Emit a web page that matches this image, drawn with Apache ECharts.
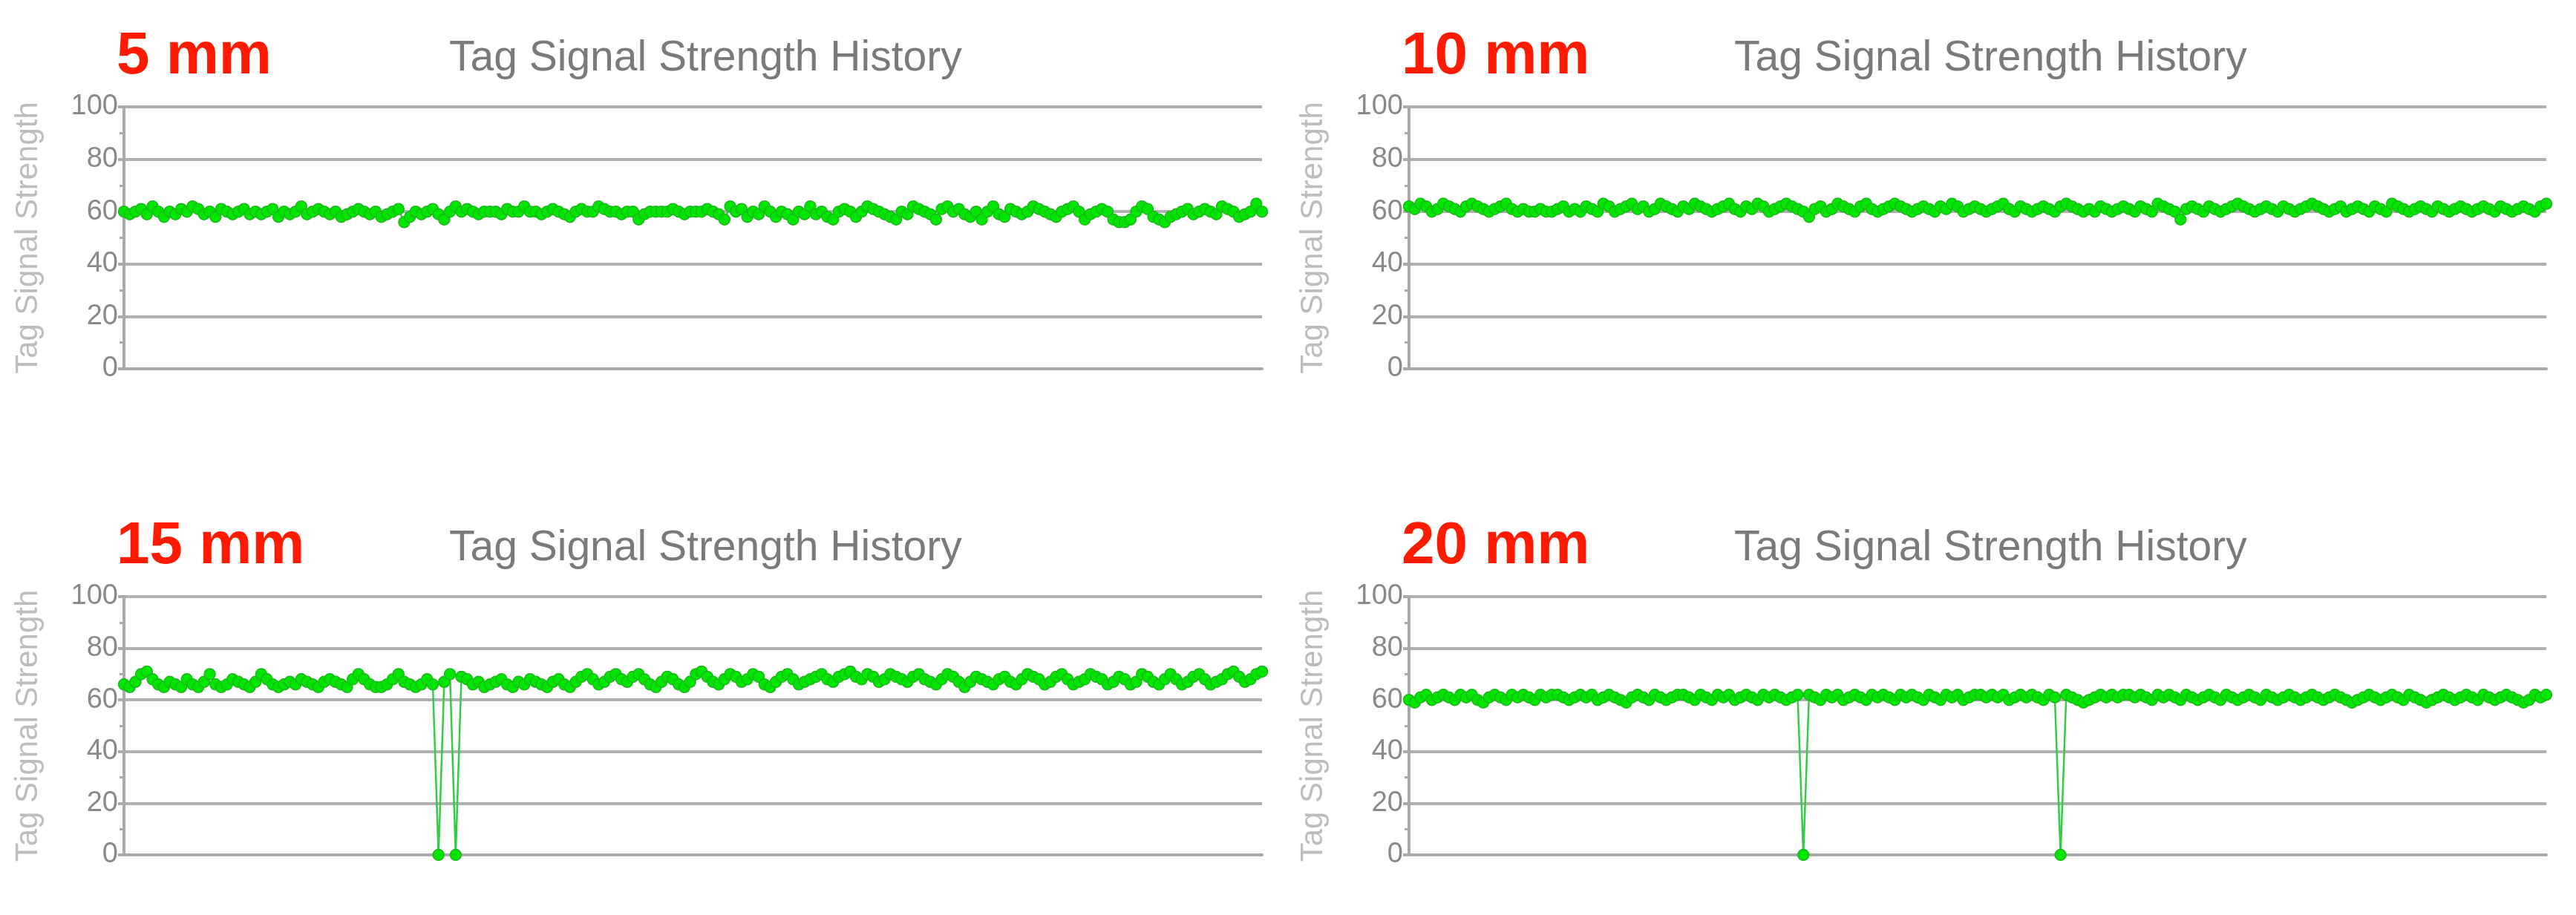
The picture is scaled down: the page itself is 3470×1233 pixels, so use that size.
<!DOCTYPE html>
<html>
<head>
<meta charset="utf-8">
<script src="https://cdn.jsdelivr.net/npm/echarts@6/dist/echarts.min.js"></script>
<style>html,body{margin:0;padding:0;background:#fff}#main{width:3470px;height:1233px}</style>
</head>
<body>
<div id="main"></div>
<script>
// panel labels
const panelNames = ['5 mm', '10 mm', '15 mm', '20 mm'];
const yTicks = [0, 20, 40, 60, 80, 100];

// read values (200 samples each)
const s5 = [
60,59,60,61,59,62,60,58,60,59,61,60,62,61,59,60,58,61,60,59,
60,61,59,60,59,60,61,58,60,59,60,62,59,60,61,60,59,60,58,59,
60,61,60,59,60,58,59,60,61,56,58,60,59,60,61,59,57,60,62,60,
61,60,59,60,60,60,59,61,60,60,62,60,60,59,60,61,60,59,58,60,
61,60,60,62,61,60,60,59,60,60,57,59,60,60,60,60,61,60,59,60,
60,60,61,60,59,57,62,60,61,58,60,59,62,60,58,60,59,57,60,59,
62,59,60,58,57,60,61,60,58,60,62,61,60,59,58,57,60,59,62,61,
60,59,57,61,62,60,61,59,58,60,57,60,62,59,58,61,60,59,60,62,
61,60,59,58,60,61,62,60,57,59,60,61,60,57,56,56,57,60,62,61,
58,57,56,58,59,60,61,59,60,61,60,59,62,61,60,58,59,60,63,60];
const s10 = [
62,61,63,62,60,61,63,62,61,60,62,63,62,61,60,61,62,63,61,60,
61,60,60,61,60,60,61,62,60,61,60,62,61,60,63,62,60,61,62,63,
61,62,60,61,63,62,61,60,62,61,63,62,61,60,61,62,63,61,60,62,
61,63,62,60,61,62,63,62,61,60,58,61,62,60,61,63,62,61,60,62,
63,61,60,61,62,63,62,61,60,61,62,61,60,62,61,63,62,60,61,62,
61,60,61,62,63,61,60,62,61,60,61,62,61,60,62,63,62,61,60,61,
60,62,61,60,61,62,61,60,62,61,60,63,62,61,60,57,61,62,61,60,
62,61,60,61,62,63,62,61,60,61,62,61,60,62,61,60,61,62,63,62,
61,60,61,62,60,61,62,61,60,62,61,60,63,62,61,60,61,62,61,60,
62,61,60,61,62,61,60,61,62,61,60,62,61,60,61,62,61,60,62,63];
const s15 = [
66,65,67,70,71,68,66,65,67,66,65,68,66,65,67,70,66,65,66,68,
67,66,65,67,70,68,66,65,66,67,66,68,67,66,65,67,68,67,66,65,
68,70,68,66,65,65,66,68,70,67,66,65,66,68,66,0,67,70,0,69,
68,66,67,65,66,67,68,66,65,67,66,68,67,66,65,67,68,66,65,67,
69,70,68,66,67,69,70,68,67,69,70,68,66,65,67,69,68,66,65,67,
70,71,69,67,66,68,70,69,67,68,70,69,66,65,67,69,70,68,66,67,
68,69,70,68,67,69,70,71,69,68,70,69,67,68,70,69,68,67,69,70,
68,67,66,68,70,69,67,65,67,69,68,67,66,68,69,67,66,68,70,69,
68,66,67,69,70,68,66,67,68,70,69,68,66,67,69,68,66,67,70,69,
67,66,68,70,68,66,67,69,70,68,66,67,68,70,71,69,67,68,70,71];
const s20 = [
60,59,61,62,60,61,62,61,60,62,61,62,60,59,61,62,61,60,62,61,
62,61,60,62,61,62,62,61,60,61,62,61,62,60,61,62,61,60,59,61,
62,61,60,62,61,60,61,62,62,61,60,62,61,60,62,61,62,60,61,62,
61,60,62,61,62,61,60,61,62,0,62,61,60,62,61,62,60,61,62,61,
60,62,61,62,61,60,62,61,62,61,60,62,61,60,62,61,62,60,61,62,
62,61,62,61,62,60,61,62,61,62,61,60,62,61,0,62,61,60,59,60,
61,62,61,62,61,62,62,61,62,61,60,62,61,62,61,60,62,61,60,61,
62,61,60,62,61,60,61,62,61,60,62,61,60,61,62,61,60,61,62,61,
60,61,62,61,60,59,60,61,62,61,60,61,62,61,60,62,61,60,59,60,
61,62,61,60,61,62,61,60,62,61,60,61,62,61,60,59,60,62,61,62];
const allSeries = [s5, s10, s15, s20];

const chart = echarts.init(document.getElementById('main'));

const grids = [
  { left: 167, width: 1533, top: 144, height: 353 },
  { left: 1898, width: 1532, top: 144, height: 353 },
  { left: 167, width: 1533, top: 804, height: 348 },
  { left: 1898, width: 1532, top: 804, height: 348 }
];

const titles = [];
grids.forEach((g, i) => {
  titles.push({
    text: 'Tag Signal Strength History',
    left: g.left + 433, top: g.top - 98,
    textStyle: { fontFamily: 'Liberation Sans', fontWeight: 'normal', fontSize: 57, color: '#7a7a7a' }
  });
  titles.push({
    text: panelNames[i],
    left: g.left - 15, top: g.top - 112,
    textStyle: { fontFamily: 'Liberation Sans', fontWeight: 'bold', fontSize: 80, color: '#ff1a00' }
  });
});

chart.setOption({
  animation: false,
  title: titles,
  grid: grids,
  xAxis: grids.map((g, i) => ({
    type: 'category', gridIndex: i, boundaryGap: false,
    data: allSeries[i].map((_, k) => k),
    axisLine: { lineStyle: { color: '#aaa', width: 4 } },
    axisTick: { show: false }, axisLabel: { show: false }
  })),
  yAxis: grids.map((g, i) => ({
    type: 'value', gridIndex: i, min: yTicks[0], max: yTicks[yTicks.length - 1], interval: 20,
    name: 'Tag Signal Strength', nameLocation: 'middle', nameGap: 108,
    nameTextStyle: { fontFamily: 'Liberation Sans', fontSize: 42, color: '#bdbdbd' },
    axisLine: { show: true, lineStyle: { color: '#aaa', width: 4 } },
    axisTick: { show: true, length: 8, lineStyle: { color: '#aaa', width: 4 } },
    minorTick: { show: true, splitNumber: 2, length: 6, lineStyle: { color: '#aaa', width: 3 } },
    axisLabel: { fontFamily: 'Liberation Sans', fontSize: 38, color: '#8a8a8a', margin: 8 },
    splitLine: { lineStyle: { color: '#b0b0b0', width: 4 } }
  })),
  series: allSeries.map((d, i) => ({
    type: 'line', xAxisIndex: i, yAxisIndex: i, data: d,
    symbol: 'circle', symbolSize: 15, showAllSymbol: true,
    lineStyle: { color: '#33cc44', width: 2.5 },
    itemStyle: { color: '#00e600', borderColor: '#1fb51f', borderWidth: 1.5 }
  }))
});
</script>
</body>
</html>
